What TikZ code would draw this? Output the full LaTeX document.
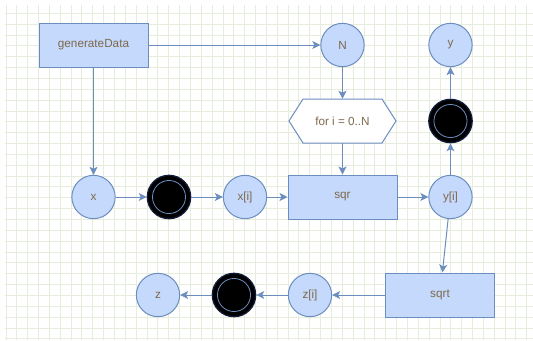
\documentclass[tikz,border=0pt]{standalone}
\usepackage{fontspec}
\setmainfont{Liberation Sans}
\usetikzlibrary{arrows.meta}
\definecolor{gridc}{HTML}{E6EDDC}
\definecolor{fillc}{HTML}{C4D9FB}
\definecolor{strokec}{HTML}{6C8EBF}
\definecolor{textc}{HTML}{7E684C}
\definecolor{navy}{HTML}{101A38}
\begin{document}
\begin{tikzpicture}[x=0.75pt,y=-0.75pt,
  every node/.style={font=\fontsize{8.8}{10}\selectfont, text=textc},
  circ/.style={circle, draw=strokec, fill=fillc, line width=0.75pt, minimum size=32.5pt, inner sep=0pt},
  boxnode/.style={rectangle, draw=strokec, fill=fillc, line width=0.75pt, minimum width=81.75pt, minimum height=33pt},
  hexnode/.style={rectangle, minimum width=80.25pt, minimum height=33pt},
  blackdot/.style={circle, draw=navy, fill=black, line width=1pt, minimum size=32.5pt, inner sep=0pt,
    path picture={\draw[strokec, line width=0.6pt] (path picture bounding box.center) circle (12.4pt);}},
  conn/.style={draw=strokec, line width=0.75pt, -{Stealth[length=6pt,width=6pt,inset=1.5pt]}}
]
\useasboundingbox (0,0) rectangle (533,340);
% grid
\begin{scope}
\clip (5,5) rectangle (533,340);
\foreach \k in {0,...,49} {\draw[gridc, line width=0.75pt] ({6+10.85*\k},5) -- ({6+10.85*\k},340);}
\foreach \k in {1,...,31} {\draw[gridc, line width=0.75pt] (5,{2.5+10.85*\k}) -- (533,{2.5+10.85*\k});}
\end{scope}
% hexagon outline
\draw[strokec, fill=white, line width=0.75pt] (289,121) -- (303,99) -- (382,99) -- (396,121) -- (382,143) -- (303,143) -- cycle;
% nodes
\node[boxnode] (gen) at (93.5,45) {generateData};
\node[circ] (N) at (342.5,45) {N};
\node[circ] (y) at (450.5,45) {y};
\node[hexnode] (hex) at (342.5,121) {for i = 0..N};
\node[blackdot] (b2) at (450.5,121) {};
\node[circ] (x) at (93.5,197) {x};
\node[blackdot] (b1) at (169,197) {};
\node[circ] (xi) at (245,197) {x[i]};
\node[boxnode] (sqr) at (342.5,197) {sqr};
\node[circ] (yi) at (450.5,197) {y[i]};
\node[boxnode] (sqrt) at (440,295) {sqrt};
\node[circ] (zi) at (310,295) {z[i]};
\node[blackdot] (b3) at (234,295) {};
\node[circ] (z) at (158,295) {z};
% connectors
\draw[conn] (gen) -- (N);
\draw[conn] (gen) -- (x);
\draw[conn] (N) -- (hex);
\draw[conn] (hex) -- (sqr);
\draw[conn] (x) -- (b1);
\draw[conn] (b1) -- (xi);
\draw[conn] (xi) -- (sqr);
\draw[conn] (sqr) -- (yi);
\draw[conn] (yi) -- (b2);
\draw[conn] (b2) -- (y);
\draw[conn] (yi) -- (sqrt);
\draw[conn] (sqrt) -- (zi);
\draw[conn] (zi) -- (b3);
\draw[conn] (b3) -- (z);
\end{tikzpicture}
\end{document}
